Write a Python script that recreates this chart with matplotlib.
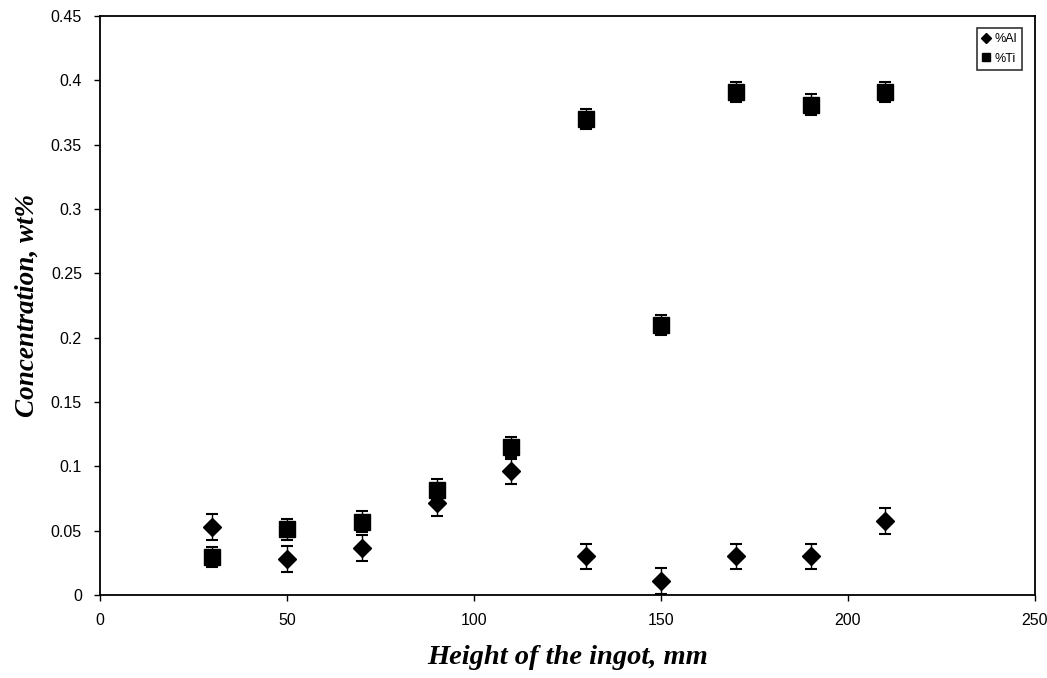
import matplotlib
matplotlib.use("Agg")
import matplotlib.pyplot as plt

# データ (読み取り値)
height = [30, 50, 70, 90, 110, 130, 150, 170, 190, 210]
al_conc = [0.053, 0.028, 0.0365, 0.0715, 0.096, 0.030, 0.011, 0.030, 0.030, 0.0575]
ti_conc = [0.0295, 0.051, 0.057, 0.082, 0.115, 0.370, 0.210, 0.391, 0.381, 0.391]
al_err = 0.01
ti_err = 0.008

x_ticks = [0, 50, 100, 150, 200, 250]
y_ticks = [0, 0.05, 0.1, 0.15, 0.2, 0.25, 0.3, 0.35, 0.4, 0.45]
y_labels = ["0", "0.05", "0.1", "0.15", "0.2", "0.25", "0.3", "0.35", "0.4", "0.45"]

plt.rcParams["font.family"] = ["Liberation Sans", "DejaVu Sans"]

fig = plt.figure(figsize=(10.47, 6.78), dpi=100)
ax = fig.add_axes([0.0955, 0.1224, 0.893, 0.854])

ax.errorbar(height, al_conc, yerr=al_err, fmt="D", color="black", markersize=9,
            ecolor="black", elinewidth=1, capsize=4, capthick=1.5, label="%Al")
ax.errorbar(height, ti_conc, yerr=ti_err, fmt="s", color="black", markersize=11,
            ecolor="black", elinewidth=1, capsize=4, capthick=1.5, label="%Ti")

ax.set_xlim(0, 250)
ax.set_ylim(0, 0.45)
ax.set_xticks(x_ticks)
ax.set_xticklabels([str(v) for v in x_ticks])
ax.set_yticks(y_ticks)
ax.set_yticklabels(y_labels)
ax.tick_params(direction="out", length=4, width=1, labelsize=11.5, colors="black")
ax.tick_params(axis="y", pad=9)
ax.tick_params(axis="x", pad=9)
for s in ax.spines.values():
    s.set_linewidth(1.3)

ax.set_xlabel("Height of the ingot, mm", fontsize=20.5, fontweight="bold",
              fontstyle="italic", family="Liberation Serif", labelpad=12)
ax.set_ylabel("Concentration, wt%", fontsize=19.5, fontweight="bold",
              fontstyle="italic", family="Liberation Serif", labelpad=8)

handles, labels = ax.get_legend_handles_labels()
handles = [h[0] for h in handles]
leg = ax.legend(handles, labels, loc="upper right", fontsize=9, markerscale=0.55,
                frameon=True, fancybox=False, edgecolor="black", handlelength=0.6,
                handletextpad=0.4, borderpad=0.4, labelspacing=0.6,
                bbox_to_anchor=(0.993, 0.99))
leg.get_frame().set_linewidth(1.2)

fig.savefig("out.png", dpi=100)
